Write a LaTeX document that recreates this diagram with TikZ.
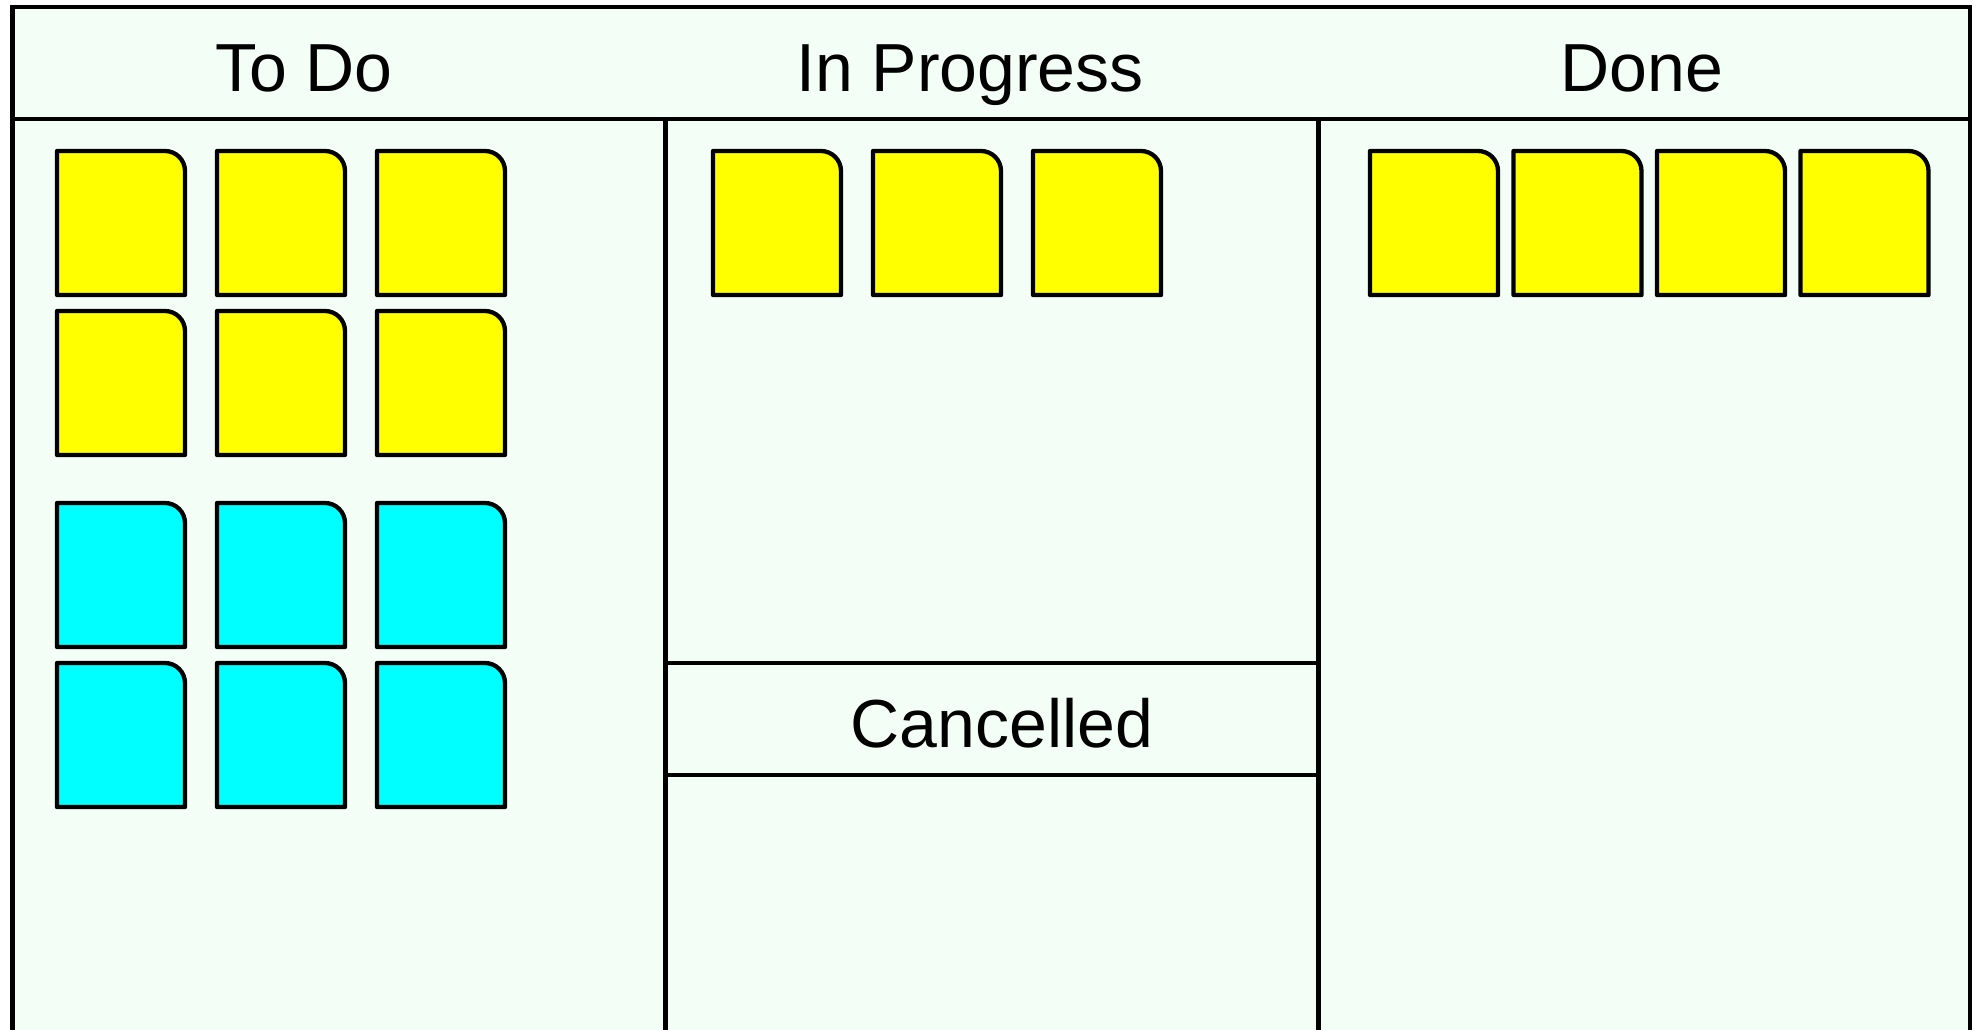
\documentclass[tikz,border=0pt]{standalone}
\usepackage{fontspec}
\setmainfont{Liberation Sans}
\definecolor{boardbg}{HTML}{F3FFF6}
\definecolor{cardyellow}{HTML}{FFFF00}
\definecolor{cardcyan}{HTML}{00FFFF}
\tikzset{
  frameline/.style={line width=4.4pt, draw=black},
  cardline/.style={line width=4.3pt, draw=black, line join=round},
  headtext/.style={font=\fontsize{68}{80}\selectfont, anchor=base, inner sep=0pt}
}
\newcommand\kbcard[3]{%
  \draw[cardline, fill=#3] (#1,#2+144) -- (#1,#2) -- (#1+108,#2)
    arc[start angle=-90, end angle=0, radius=20] -- (#1+128,#2+144) -- cycle;}
\begin{document}
\begin{tikzpicture}[x=1pt,y=-1pt]
\useasboundingbox (0,0) rectangle (1978,1029);
\clip (0,0) rectangle (1978,1029);
\fill[white] (0,0) rectangle (1978,1029);
% board
\draw[frameline, fill=boardbg] (12.5,7) rectangle (1970,1045);
\coordinate (hl) at (12.5,119);
\coordinate (hr) at (1970,119);
\draw[frameline] (hl) -- (hr);
\coordinate (d1t) at (665.5,119);
\coordinate (d1b) at (665.5,1045);
\coordinate (d2t) at (1318.3,119);
\coordinate (d2b) at (1318.3,1045);
\draw[frameline] (d1t) -- (d1b);
\draw[frameline] (d2t) -- (d2b);
\coordinate (c1l) at (665.5,663);
\coordinate (c1r) at (1318.3,663);
\coordinate (c2l) at (665.5,775);
\coordinate (c2r) at (1318.3,775);
\draw[frameline] (c1l) -- (c1r);
\draw[frameline] (c2l) -- (c2r);
% titles
\node[headtext] (todo) at (304,91) {To Do};
\node[headtext] (inprog) at (970,91) {In Progress};
\node[headtext] (done) at (1642,91) {Done};
\node[headtext] (cancel) at (1002,747) {Cancelled};
% To Do cards
\foreach \cx in {57,217,377}{
  \foreach \cy in {151,311}{\kbcard{\cx}{\cy}{cardyellow}}
  \foreach \cy in {503,663}{\kbcard{\cx}{\cy}{cardcyan}}
}
% In Progress cards
\foreach \cx in {713,873,1033}{\kbcard{\cx}{151}{cardyellow}}
% Done cards
\foreach \cx in {1370,1513.5,1657,1800.5}{\kbcard{\cx}{151}{cardyellow}}
\end{tikzpicture}
\end{document}
